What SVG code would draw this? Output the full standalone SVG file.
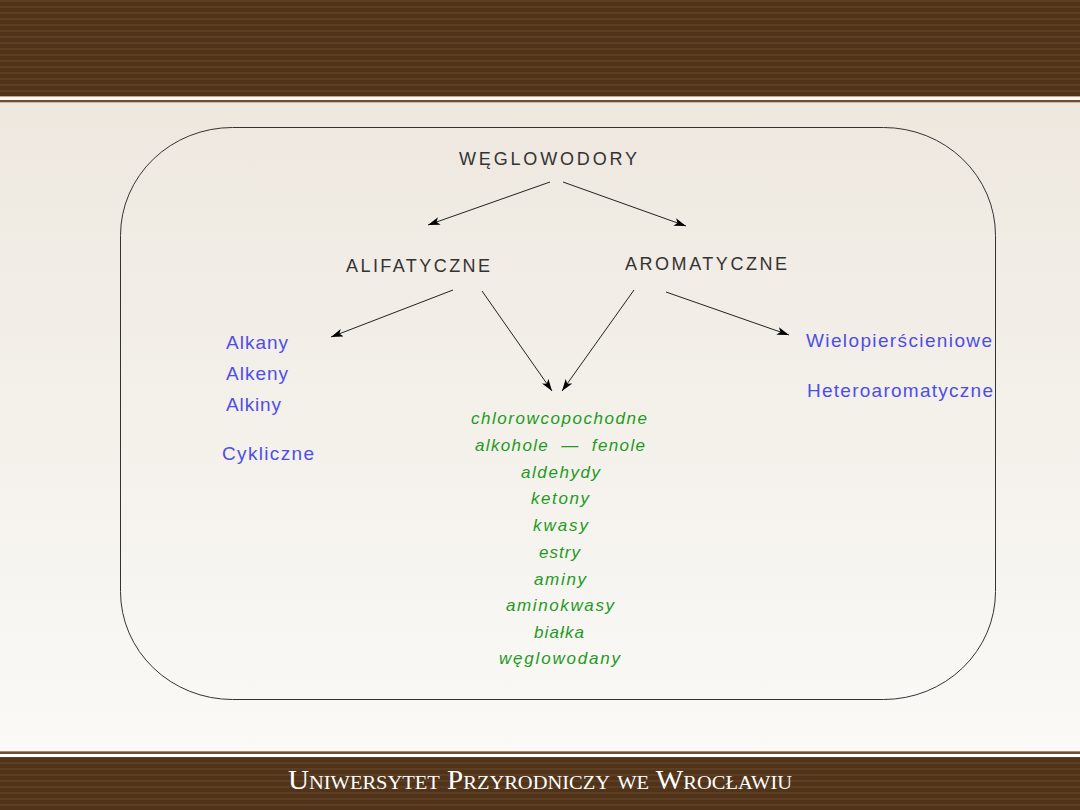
<svg xmlns="http://www.w3.org/2000/svg" width="1080" height="810" viewBox="0 0 1080 810">
<defs>
<linearGradient id="bg" x1="0" y1="0" x2="0" y2="1">
<stop offset="0" stop-color="#ece5db"/>
<stop offset="1" stop-color="#fbfbf9"/>
</linearGradient>
<pattern id="stripes" width="10" height="6" patternUnits="userSpaceOnUse">
<rect width="10" height="6" fill="#51331a"/>
<rect y="0" width="10" height="2" fill="#5c3f22"/>
</pattern>
<marker id="ah" viewBox="0 0 12 8" refX="12" refY="4" markerWidth="12" markerHeight="8" markerUnits="userSpaceOnUse" orient="auto">
<path d="M0,0 L12,4 L0,8 L3,4 Z" fill="#000"/>
</marker>
<style>
.dark{font-family:"Liberation Sans",Arial,sans-serif;font-size:18px;fill:#333}
.blue{font-family:"Liberation Sans",Arial,sans-serif;font-size:19px;fill:#4e4ee6}
.green{font-family:"Liberation Sans",Arial,sans-serif;font-size:17px;font-style:italic;fill:#1f9a1f}
.conn line{stroke:#222;stroke-width:1;marker-end:url(#ah)}
</style>
</defs>
<rect width="1080" height="810" fill="url(#bg)"/>
<rect x="0" y="0" width="1080" height="96" fill="url(#stripes)"/>
<rect x="0" y="96" width="1080" height="1" fill="#b9a892"/>
<rect x="0" y="97" width="1080" height="3" fill="#fbf8f3"/>
<rect x="0" y="100" width="1080" height="2" fill="#6b4e33"/>
<rect x="0" y="102" width="1080" height="1" fill="#c9b8a3"/>
<rect x="0" y="751" width="1080" height="1" fill="#a08a75"/>
<rect x="0" y="752" width="1080" height="2" fill="#6b4e33"/>
<rect x="0" y="754" width="1080" height="3" fill="#ffffff"/>
<rect x="0" y="757" width="1080" height="53" fill="url(#stripes)"/>
<text x="288" y="789" font-family="Liberation Serif,serif" font-size="27" font-variant="small-caps" fill="#fff" textLength="504" lengthAdjust="spacingAndGlyphs">Uniwersytet Przyrodniczy we Wrocławiu</text>
<rect id="frame" x="120.5" y="127.5" width="875" height="572" rx="112" ry="108" fill="none" stroke="#333" stroke-width="1"/>
<g class="conn" id="connectors">
<line x1="550" y1="182" x2="428" y2="225"/>
<line x1="563" y1="182" x2="686" y2="226"/>
<line x1="453" y1="290" x2="331" y2="337"/>
<line x1="482" y1="291" x2="552" y2="391"/>
<line x1="634" y1="290" x2="562" y2="391"/>
<line x1="666" y1="292" x2="789" y2="335"/>
</g>
<g id="weglowodory"><text class="dark" x="459" y="165" textLength="178">WĘGLOWODORY</text></g>
<g id="alifatyczne"><text class="dark" x="346" y="272" textLength="144">ALIFATYCZNE</text></g>
<g id="aromatyczne"><text class="dark" x="625" y="270" textLength="162">AROMATYCZNE</text></g>
<g id="alifatyczne-list">
<text class="blue" x="226" y="349" textLength="62">Alkany</text>
<text class="blue" x="226" y="380" textLength="62">Alkeny</text>
<text class="blue" x="226" y="411" textLength="55">Alkiny</text>
<text class="blue" x="222" y="460" textLength="92">Cykliczne</text>
</g>
<g id="aromatyczne-list">
<text class="blue" x="806" y="347" textLength="186">Wielopierścieniowe</text>
<text class="blue" x="807" y="397" textLength="186">Heteroaromatyczne</text>
</g>
<g id="pochodne">
<text class="green" x="471" y="424" textLength="176">chlorowcopochodne</text>
<text class="green" x="475" y="451" textLength="170" xml:space="preserve">alkohole  —  fenole</text>
<text class="green" x="521" y="478" textLength="79">aldehydy</text>
<text class="green" x="531" y="504" textLength="58">ketony</text>
<text class="green" x="533" y="531" textLength="55">kwasy</text>
<text class="green" x="539" y="558" textLength="41">estry</text>
<text class="green" x="534" y="585" textLength="52">aminy</text>
<text class="green" x="506" y="611" textLength="108">aminokwasy</text>
<text class="green" x="534" y="638" textLength="50">białka</text>
<text class="green" x="499" y="664" textLength="121">węglowodany</text>
</g>
</svg>
